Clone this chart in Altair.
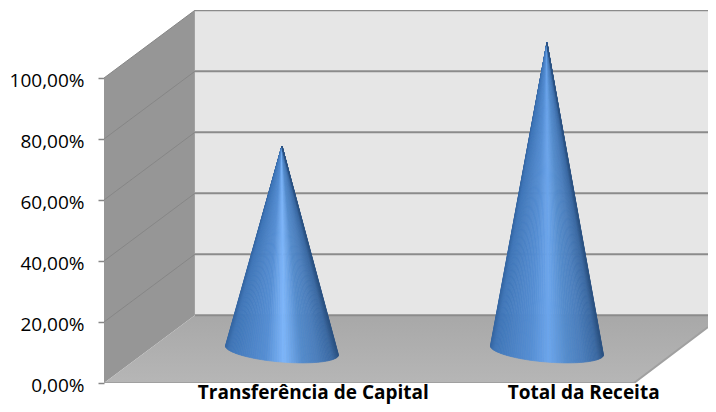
import numpy as np
import pandas as pd
import altair as alt

# Values
categories = ["Transferência de Capital", "Total da Receita"]
values = [67.0, 100.8]
tick_values = [0, 20, 40, 60, 80, 100]

# 3D box geometry, in data units (1 x unit = one category)
DEPTH_X, DEPTH_Y = 0.343, 22.2
X_MAX, Y_MAX = 604 / 265, 373 / 3.05
CAT_END = 2.0
R_X, SKEW, R_Y = 56.5 / 265, 4.5 / 3.05, 11.7 / 3.05
BASE_Y = 10.7
LABEL_X = [0.79, 1.81]

xs = alt.Scale(domain=[0, X_MAX], nice=False, zero=False)
ys = alt.Scale(domain=[0, Y_MAX], nice=False, zero=False)
y_axis = alt.Axis(
    values=tick_values,
    labelExpr="replace(format(datum.value,'.2f'),'.',',')+'%'",
    domain=False,
    grid=False,
    title=None,
    ticks=True,
    tickSize=6,
    tickColor="#868686",
    tickWidth=1.5,
    labelPadding=14,
    labelOffset=2,
    labelFont="Open Sans",
    labelFontSize=19,
    labelColor="#000000",
)
X = alt.X("x:Q", scale=xs, axis=None)
Y = alt.Y("y:Q", scale=ys, axis=y_axis)
Y2 = alt.Y2("y2:Q")
GRID = "#8b8b8b"


def area(df, color):
    return alt.Chart(pd.DataFrame(df)).mark_area(color=color, interpolate="linear", clip=True).encode(X, Y, Y2)


def lines(rows, color, width):
    return alt.Chart(pd.DataFrame(rows)).mark_line(color=color, strokeWidth=width, clip=True).encode(
        X, Y, detail="g:N", order="o:Q"
    )


back_wall = area(
    {"x": [DEPTH_X, X_MAX], "y": [100 + DEPTH_Y] * 2, "y2": [DEPTH_Y] * 2}, "#e6e6e6"
)
left_wall = area(
    {"x": [0, DEPTH_X], "y": [100, 100 + DEPTH_Y], "y2": [0, DEPTH_Y]}, "#969696"
)
floor = area(
    {
        "x": [0, DEPTH_X, CAT_END, X_MAX],
        "y": [0, DEPTH_Y, DEPTH_Y, DEPTH_Y],
        "y2": [0, 0, 0, (X_MAX - CAT_END) * 265 * 0.756 / 3.05],
    },
    alt.Gradient(
        gradient="linear", x1=0, x2=0, y1=0, y2=1,
        stops=[alt.GradientStop(color="#a8a8a8", offset=0), alt.GradientStop(color="#b6b6b6", offset=1)],
    ),
)

back_rows, side_rows = [], []
for t in tick_values:
    back_rows += [
        {"x": DEPTH_X, "y": t + DEPTH_Y, "g": t, "o": 0},
        {"x": X_MAX, "y": t + DEPTH_Y, "g": t, "o": 1},
    ]
    if t:
        side_rows += [
            {"x": 0, "y": t, "g": t, "o": 0},
            {"x": DEPTH_X, "y": t + DEPTH_Y, "g": t, "o": 1},
        ]
back_grid = lines(back_rows, GRID, 2)
side_grid = lines(side_rows, "#868686", 1)
front_edge = lines(
    [
        {"x": 0, "y": 0, "g": 0, "o": 0},
        {"x": CAT_END, "y": 0, "g": 0, "o": 1},
        {"x": X_MAX, "y": (X_MAX - CAT_END) * 265 * 0.756 / 3.05, "g": 0, "o": 2},
    ],
    "#a0a0a0",
    2,
)

# shading across the cone, left edge to right edge; the middle stop differs per cone
SHADE_POS = [0.0, 0.04, 0.20, 0.36, 0.52, 0.68, 0.82, 0.95, 1.0]
SHADE_RGB = [
    (0x35, 0x66, 0xa2),
    (0x40, 0x76, 0xb8),
    (0x4c, 0x83, 0xc6),
    (0x56, 0x8f, 0xd4),
    None,
    (0x55, 0x8c, 0xcc),
    (0x4b, 0x7e, 0xbc),
    (0x3b, 0x6a, 0xa3),
    (0x2b, 0x52, 0x82),
]
PEAKS = [(0x7e, 0xb6, 0xfa), (0x6c, 0xa6, 0xec)]


def shade(frac, peak):
    rgb = [peak if c is None else c for c in SHADE_RGB]
    return "#%02x%02x%02x" % tuple(
        int(round(np.interp(frac, SHADE_POS, [c[k] for c in rgb]))) for k in range(3)
    )


def cone(i, value):
    cx = i + 0.5 + DEPTH_X / 2
    apex = (cx, BASE_Y + value)
    t = np.linspace(np.pi, 0, 73)
    ax = cx + R_X * np.cos(t)
    low = BASE_Y - SKEW * np.cos(t) - R_Y * np.sin(t)
    rows = []
    for k in range(len(t) - 1):
        tri = sorted([(ax[k], low[k]), (ax[k + 1], low[k + 1]), apex])
        (xa, ya), (xb, yb), (xc, yc) = tri
        ymid = ya + (yc - ya) * (xb - xa) / (xc - xa)
        col = shade((0.5 * (ax[k] + ax[k + 1]) - ax[0]) / (ax[-1] - ax[0]), PEAKS[i])
        for x0, y0, y1 in [(xa, ya, ya), (xb, yb, ymid), (xc, yc, yc)]:
            rows.append({"x": x0, "y": y0, "y2": y1, "w": k, "c": col})
    return (
        alt.Chart(pd.DataFrame(rows))
        .mark_area(interpolate="linear", strokeWidth=0.7)
        .encode(
            X,
            Y,
            Y2,
            detail="w:N",
            color=alt.Color("c:N", scale=None),
            stroke=alt.Stroke("c:N", scale=None),
        )
    )


cones = [cone(i, v) for i, v in enumerate(values)]

labels = alt.Chart(pd.DataFrame({"x": LABEL_X, "y": [0, 0], "t": categories})).mark_text(
    font="Open Sans", fontSize=19, fontWeight="bold", color="#000000", dy=16, baseline="alphabetic", align="center"
).encode(X, Y, text="t:N")

chart = alt.layer(
    back_wall, left_wall, floor, back_grid, side_grid, front_edge, *cones, labels
).properties(
    width=604,
    height=373,
    padding={"left": 96, "top": 2, "right": 0, "bottom": 21},
    autosize=alt.AutoSizeParams(type="none"),
    background="#ffffff",
).configure_view(stroke=None)

chart.save("out.html", embed_options={"renderer": "svg", "actions": False})
